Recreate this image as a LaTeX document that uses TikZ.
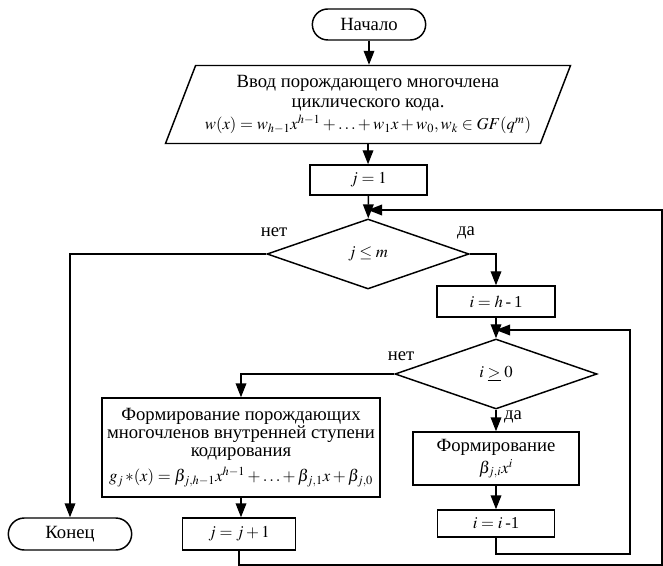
\documentclass[tikz,border=0pt]{standalone}
\usepackage{mathptmx}
\usepackage[no-math]{fontspec}
\setmainfont{Liberation Serif}
\usetikzlibrary{shapes.geometric,shapes.misc,arrows.meta}
% one drawing unit = one pixel of the layout grid
\newcommand\upx{0.75pt}
% size used for the formulas
\newcommand\mfs{\fontsize{12.5}{15}\selectfont}

\begin{document}
\begin{tikzpicture}[x=0.75pt,y=-0.75pt,
  base/.style={draw, line width=1.1pt, inner sep=1pt, align=center,
    font=\fontsize{14}{13.5}\selectfont},
  procbox/.style={base, rectangle},
  mathbox/.style={procbox, font=\mfs},
  term/.style={base, rounded rectangle},
  decide/.style={base, diamond, aspect=2.9, font=\mfs},
  io/.style={base, trapezium, trapezium left angle=64, trapezium right angle=116,
    trapezium stretches body, font=\fontsize{14}{15}\selectfont},
  link/.style={line width=1.1pt},
  arr/.style={link, -{Triangle[length=10.5pt,width=8pt]}},
  lbl/.style={font=\fontsize{14}{15}\selectfont, inner sep=0pt}]

\useasboundingbox (0,0) rectangle (663,566);

% blocks
\node[term, minimum width=116*\upx, minimum height=31*\upx] (start) at (369,24.5) {Начало};
\node[io, minimum width=405*\upx, minimum height=78*\upx] (input) at (368,104.5)
  {Ввод порождающего многочлена\\ циклического кода.\\[2pt]
   \mfs$w(x)=w_{h-1}x^{h-1}+\ldots+w_1x+w_0, w_k\in GF(q^m)$};
\node[mathbox, minimum width=117*\upx, minimum height=30*\upx] (j1) at (368.5,180) {$j=1$};
\node[decide, minimum width=202*\upx, minimum height=70*\upx] (d1) at (368,254) {$j\leq m$};
\node[mathbox, minimum width=118*\upx, minimum height=31*\upx] (ih) at (496,301.5) {$i=h$\,-\,1};
\node[decide, minimum width=202*\upx, minimum height=70*\upx] (d2) at (496,374) {$i\mathrel{\underline{>}}0$};
\node[procbox, minimum width=278*\upx, minimum height=99*\upx] (form) at (241,447.5)
  {Формирование порождающих\\ многочленов внутренней ступени\\ кодирования\\[4pt]
   \mfs$g_j\,{*}(x)=\beta_{j,h-1}x^{h-1}+\ldots+\beta_{j,1}x+\beta_{j,0}$};
\node[mathbox, minimum width=113*\upx, minimum height=32*\upx] (jj) at (239,534) {$j=j+1$};
\node[term, minimum width=126*\upx, minimum height=32*\upx] (end) at (70,534) {Конец};
\node[procbox, minimum width=166*\upx, minimum height=53*\upx] (beta) at (496,458.5)
  {Формирование\\[2pt] \mfs$\beta_{j,i}x^{i}$};
\node[mathbox, minimum width=117*\upx, minimum height=27*\upx] (ii) at (496,523.5) {$i=i$\,-1};

% branch labels
\node[lbl] (no1) at (274,232) {нет};
\node[lbl] (yes1) at (466,233) {да};
\node[lbl] (no2) at (401,356) {нет};
\node[lbl] (yes2) at (513,417) {да};

% loop corners
\coordinate (m1) at (368,210);
\coordinate (r1) at (662,565);
\coordinate (m2) at (496,330);
\coordinate (r2) at (630,554);

% connectors
\draw[arr] (start.south) -- (start.south |- input.north);
\draw[arr] (input.south) -- (input.south |- j1.north);
\draw[arr] (j1) -- (d1);
\draw[arr] (d1.west) -| (end.north);
\draw[arr] (d1.east) -| (ih.north);
\draw[arr] (ih) -- (d2);
\draw[arr] (d2.west) -| (form.north);
\draw[arr] (d2) -- (beta);
\draw[arr] (beta) -- (ii);
\draw[arr] (form.south) -- (form.south |- jj.north);
\draw[arr] (jj.south) |- (r1) |- (m1);
\draw[arr] (ii.south) |- (r2) |- (m2);
\end{tikzpicture}
\end{document}
